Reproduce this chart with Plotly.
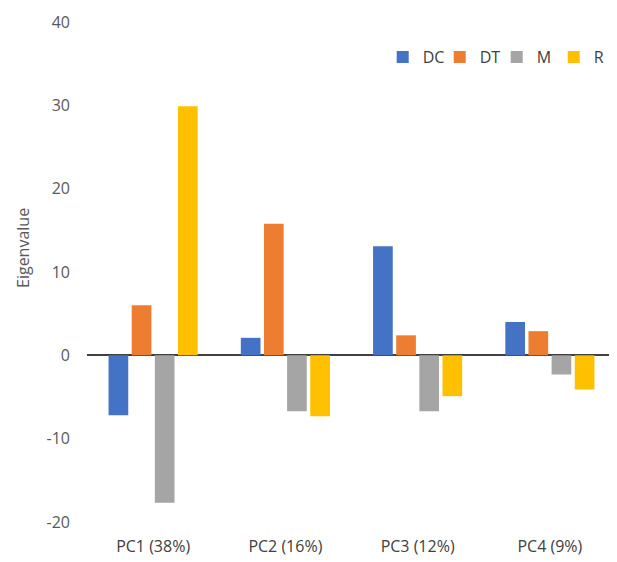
import plotly.graph_objects as go

categories = ["PC1 (38%)", "PC2 (16%)", "PC3 (12%)", "PC4 (9%)"]
series_names = ["DC", "DT", "M", "R"]
dc = [-7.2, 2.1, 13.1, 4.0]
dt = [6.0, 15.8, 2.4, 2.9]
m = [-17.7, -6.7, -6.7, -2.3]
r = [29.9, -7.3, -4.9, -4.1]
y_tick_values = [-20, -10, 0, 10, 20, 30, 40]
y_tick_labels = ["-20", "-10", "0", "10", "20", "30", "40"]
colors = ["#4472C4", "#ED7D31", "#A5A5A5", "#FFC000"]

fig = go.Figure()
for name, vals, col in zip(series_names, [dc, dt, m, r], colors):
    fig.add_trace(go.Bar(x=categories, y=vals, name=name, marker=dict(color=col, line=dict(width=0))))

font_family = "Open Sans, Liberation Sans, sans-serif"
fig.update_layout(
    width=609, height=554,
    margin=dict(l=79, r=1, t=14, b=40),
    paper_bgcolor="white", plot_bgcolor="white",
    barmode="group", bargap=0.3, bargroupgap=0.15,
    font=dict(family=font_family, size=16, color="#595959"),
    showlegend=True,
    legend=dict(orientation="h", x=0.99, xanchor="right", y=0.93, yanchor="middle",
                font=dict(size=16, color="#404040"), itemwidth=30, traceorder="normal",
                entrywidth=12, entrywidthmode="pixels",
                bgcolor="rgba(0,0,0,0)"),
    xaxis=dict(showgrid=False, showline=False, ticks="", tickfont=dict(size=16, color="#404040"),
               ticklabelstandoff=13),
    yaxis=dict(range=[-20, 40], tickvals=y_tick_values, ticktext=y_tick_labels, showgrid=False,
               showline=False, ticks="", zeroline=True, zerolinecolor="#404040", zerolinewidth=1.5,
               tickfont=dict(size=16, color="#595959"), ticklabelstandoff=16),
    annotations=[dict(text="Eigenvalue", xref="paper", yref="paper", x=-0.121, y=0.548,
                      textangle=-90, showarrow=False, xanchor="center", yanchor="middle",
                      font=dict(size=16, color="#595959"))],
)

fig.write_html("out.html")
